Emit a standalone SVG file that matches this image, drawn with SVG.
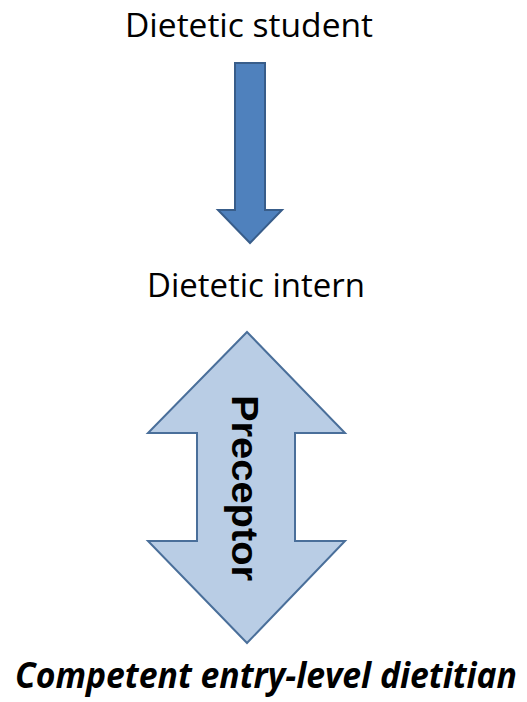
<svg xmlns="http://www.w3.org/2000/svg" width="527" height="702" viewBox="0 0 527 702">
<style>
.lbl{font-family:"Open Sans","Liberation Sans",sans-serif;font-size:33px;fill:#000;text-anchor:middle}
.bold{font-family:"Open Sans","Liberation Sans",sans-serif;font-weight:bold;font-style:italic;font-size:31px;fill:#000;text-anchor:middle}
</style>
<rect width="527" height="702" fill="#fff"/>
<g id="student"><text class="lbl" x="249" y="37" textLength="248" lengthAdjust="spacingAndGlyphs">Dietetic student</text></g>
<g id="connectors">
<path d="M235,63 H265 V210 H282 L250,243 L218,210 H235 Z" fill="#4F81BD" stroke="#385D8A" stroke-width="2"/>
</g>
<g id="intern"><text class="lbl" x="256" y="297" textLength="218" lengthAdjust="spacingAndGlyphs">Dietetic intern</text></g>
<g id="preceptor">
<path d="M247,332 L345,433 H295 V541 H345 L247,643 L148,541 H197 V433 H148 Z" fill="#B9CDE5" stroke="#4A6F9A" stroke-width="2"/>
<text transform="translate(232 488) rotate(90)" x="0" y="0" font-family="Liberation Sans, Arial, sans-serif" font-weight="bold" font-size="37" text-anchor="middle" fill="#000" textLength="186" lengthAdjust="spacingAndGlyphs">Preceptor</text>
</g>
<g id="dietitian"><text class="bold" transform="translate(266 688) scale(1 1.13)" x="0" y="0" textLength="502" lengthAdjust="spacingAndGlyphs">Competent entry-level dietitian</text></g>
</svg>
